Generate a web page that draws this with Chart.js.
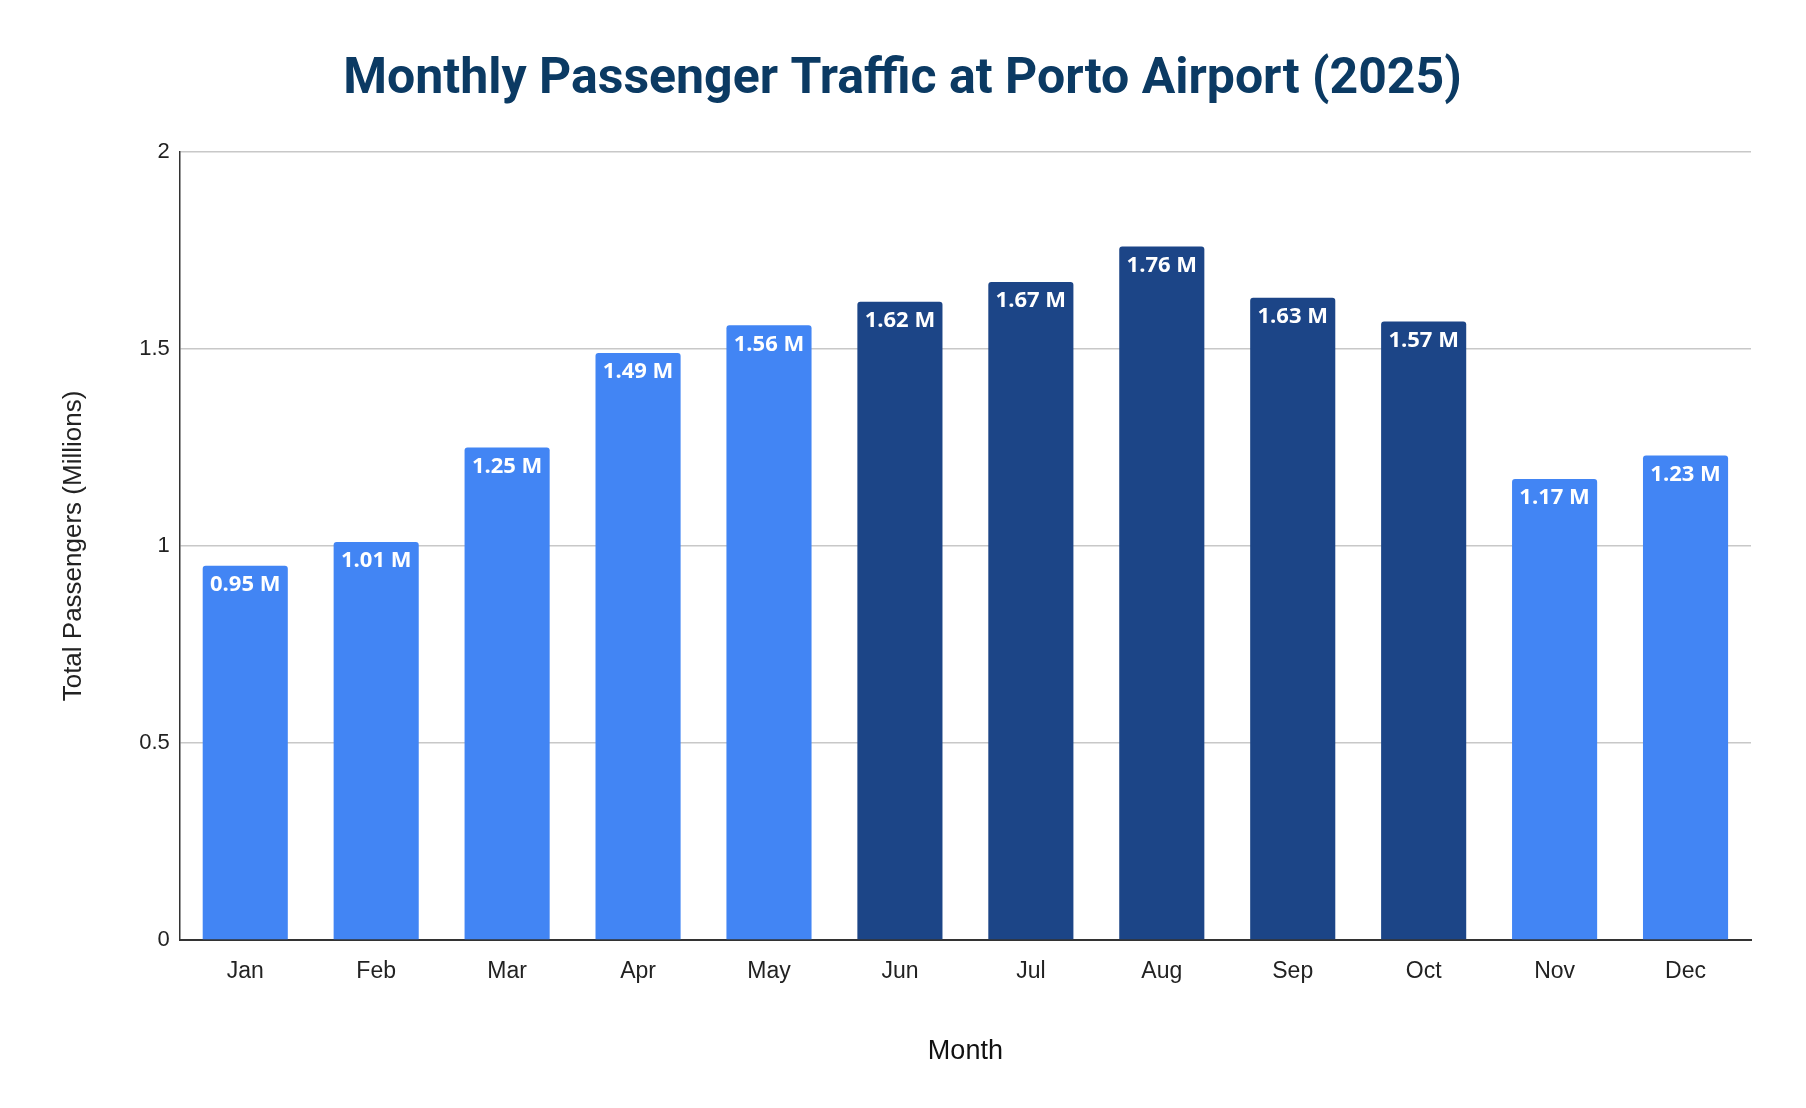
<!DOCTYPE html>
<html>
<head>
<meta charset="utf-8">
<script src="https://cdn.jsdelivr.net/npm/chart.js@4"></script>
<style>
  html, body { margin: 0; padding: 0; background: #fff; }
  #wrap { width: 1806px; height: 1108px; position: relative; }
</style>
</head>
<body>
<div id="wrap"><canvas id="chart"></canvas></div>
<script>
const months = ["Jan", "Feb", "Mar", "Apr", "May", "Jun", "Jul", "Aug", "Sep", "Oct", "Nov", "Dec"];
const passengers = [0.95, 1.01, 1.25, 1.49, 1.56, 1.62, 1.67, 1.76, 1.63, 1.57, 1.17, 1.23];
const peakMonths = ["Jun", "Jul", "Aug", "Sep", "Oct"];

const LIGHT = "#4285f4";
const DARK = "#1c4587";

// value labels inside the top of each bar
const barLabels = {
  id: "barLabels",
  afterDatasetsDraw(chart) {
    const ctx = chart.ctx;
    const meta = chart.getDatasetMeta(0);
    ctx.save();
    ctx.fillStyle = "#fff";
    ctx.font = "bold 22px 'Open Sans', sans-serif";
    ctx.textAlign = "center";
    ctx.textBaseline = "top";
    meta.data.forEach((bar, i) => {
      ctx.fillText(passengers[i].toFixed(2) + " M", bar.x, bar.y + 8);
    });
    ctx.restore();
  }
};

new Chart(document.getElementById("chart"), {
  type: "bar",
  data: {
    labels: months,
    datasets: [{
      data: passengers,
      backgroundColor: months.map(m => peakMonths.includes(m) ? DARK : LIGHT),
      borderRadius: { topLeft: 3, topRight: 3 },
      borderSkipped: "bottom",
      categoryPercentage: 0.65,
      barPercentage: 1.0
    }]
  },
  options: {
    responsive: true,
    maintainAspectRatio: false,
    animation: false,
    layout: { padding: { left: 54, right: 55, top: 20, bottom: 36 } },
    plugins: {
      legend: { display: false },
      tooltip: { enabled: false },
      title: {
        display: true,
        text: "Monthly Passenger Traffic at Porto Airport (2025)",
        color: "#0b3a63",
        font: { family: "Roboto, sans-serif", size: 50, weight: "bold" },
        padding: { top: 30, bottom: 42 }
      }
    },
    scales: {
      x: {
        grid: { display: false },
        border: { color: "#333", width: 2 },
        ticks: { color: "#222", font: { family: "'Liberation Sans', Arial, sans-serif", size: 23 }, padding: 10 },
        title: {
          display: true, text: "Month", color: "#111",
          font: { family: "'Liberation Sans', Arial, sans-serif", size: 27 }, padding: { top: 40 }
        }
      },
      y: {
        min: 0, max: 2,
        ticks: {
          stepSize: 0.5, color: "#222", padding: 10,
          font: { family: "'Liberation Sans', Arial, sans-serif", size: 22 },
          callback: v => String(v)
        },
        grid: { color: "#c8c8c8", lineWidth: 1.5, drawTicks: false },
        border: { display: true, color: "#333", width: 1.5 },
        title: {
          display: true, text: "Total Passengers (Millions)", color: "#222",
          font: { family: "'Liberation Sans', Arial, sans-serif", size: 26 }, padding: { bottom: 40 }
        }
      }
    }
  },
  plugins: [barLabels]
});
</script>
</body>
</html>
